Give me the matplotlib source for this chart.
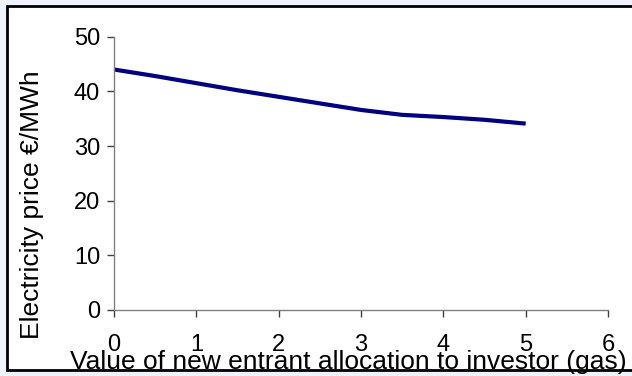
import matplotlib
matplotlib.use("Agg")
import matplotlib.pyplot as plt
import matplotlib.patches as patches

plt.rcParams['font.family'] = ['Liberation Sans', 'DejaVu Sans']

# valori
allocation = [0, 0.5, 1, 1.5, 2, 2.5, 3, 3.5, 4, 4.5, 5]
price = [44.0, 42.8, 41.5, 40.2, 39.0, 37.8, 36.6, 35.7, 35.3, 34.8, 34.1]
xticks = [0, 1, 2, 3, 4, 5, 6]
yticks = [0, 10, 20, 30, 40, 50]

fig = plt.figure(figsize=(6.32, 3.76), dpi=100)
fig.patch.set_facecolor('#eef3fb')

# cadrul alb cu margine neagra
fig.patches.append(patches.Rectangle((7 / 632, 6 / 376), 1.0, 364 / 376,
                                     transform=fig.transFigure, facecolor='white',
                                     edgecolor='black', linewidth=2, zorder=-5))

ax = fig.add_axes([114 / 632, 1 - 310 / 376, (608 - 114) / 632, (310 - 36.7) / 376])
ax.set_facecolor('none')
ax.plot(allocation, price, color='#000080', linewidth=3, solid_capstyle='butt')

ax.set_xlim(0, 6)
ax.set_ylim(0, 50)
ax.set_xticks(xticks)
ax.set_yticks(yticks)
ax.spines['top'].set_visible(False)
ax.spines['right'].set_visible(False)
for s in ['left', 'bottom']:
    ax.spines[s].set_color('#808080')
    ax.spines[s].set_linewidth(1)
ax.tick_params(axis='both', colors='#404040', labelcolor='black', labelsize=17,
               length=5, width=1, direction='out')
ax.tick_params(axis='x', pad=12)
ax.tick_params(axis='y', pad=5)

ax.set_xlabel('Value of new entrant allocation to investor (gas)', fontsize=19)
ax.xaxis.set_label_coords(0.474, -0.148)
ax.set_ylabel('Electricity price €/MWh', fontsize=19)
ax.yaxis.set_label_coords(-0.142, 0.384)

fig.savefig('out.png', dpi=100, facecolor=fig.get_facecolor())
